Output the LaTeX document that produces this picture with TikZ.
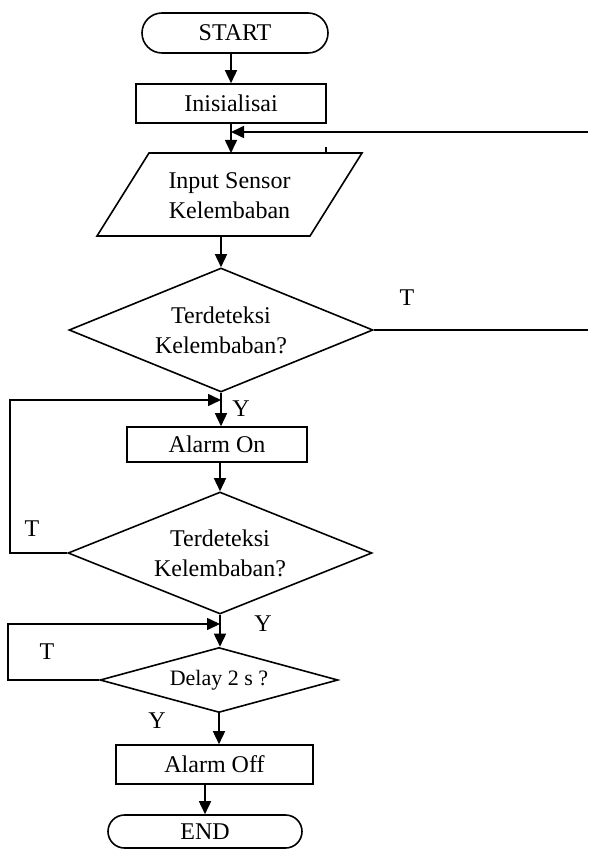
\documentclass[tikz,border=0pt]{standalone}
\usepackage{fontspec}
\setmainfont{Liberation Serif}
\usetikzlibrary{shapes.geometric,arrows.meta}
\tikzset{
	garis/.style={line width=0.8pt},
	panah/.style={garis, -{Triangle[length=6.5pt,width=6pt]}},
	terminal/.style={garis, draw, rounded corners=10pt, inner sep=0pt, minimum width=93pt, minimum height=20pt},
	proses/.style={garis, draw, inner sep=0pt, minimum width=95pt, minimum height=19.5pt},
	keputusan/.style={garis, draw, diamond, aspect=2.45, inner sep=0pt, minimum width=152pt, minimum height=62pt, align=center}
}
\begin{document}
\begin{tikzpicture}[x=0.5pt, y=-0.5pt, font=\fontsize{12}{15}\selectfont]
	\useasboundingbox (0,0) rectangle (588,849);
	\node[terminal] (mulai) at (235, 33) {START};
	\node[proses] (init) at (231, 103.5) {Inisialisai};
	\node[align=center, inner sep=0pt] (masukan) at (229.5, 196) {Input Sensor\\Kelembaban};
	\node[keputusan] (cek1) at (221, 330) {Terdeteksi\\Kelembaban?};
	\node[proses, minimum width=90pt, minimum height=17.5pt] (alarmon) at (217, 444.5) {Alarm On};
	\node[keputusan, minimum height=61pt] (cek2) at (220, 553) {Terdeteksi\\Kelembaban?};
	\node[keputusan, aspect=3.66, minimum width=119pt, minimum height=32.5pt, font=\fontsize{11}{13}\selectfont] (delay) at (219, 680) {Delay 2 s ?};
	\node[proses, minimum width=98.5pt] (alarmoff) at (214.5, 764.5) {Alarm Off};
	\node[terminal, minimum width=97pt, minimum height=16.5pt, rounded corners=8.25pt] (selesai) at (205, 831.5) {END};

	\draw[garis] (149, 153) -- (362, 153) -- (310, 236) -- (97, 236) -- cycle;
	\coordinate (masukanA) at (231, 153);
	\coordinate (masukanB) at (223, 236);

	\node (tA) at (407, 298) {T};
	\node (yA) at (241, 409) {Y};
	\node (tB) at (32, 529) {T};
	\node (yB) at (263, 624) {Y};
	\node (tC) at (47, 652) {T};
	\node (yC) at (157, 721) {Y};

	\coordinate (kanan) at (588, 132);
	\coordinate (kiriA) at (10, 400);
	\coordinate (kiriB) at (8, 624);

	\draw[panah] (mulai.south -| init.north) -- (init.north);
	\draw[panah] (init.south) -- (init.south |- masukanA);
	\draw[panah] (kanan) -- (kanan -| init.south);
	\draw[garis] (326, 147) -- (326, 153);
	\draw[panah] (masukanB -| cek1.north) -- (cek1.north);
	\draw[garis] (cek1.east) -- (cek1.east -| kanan);
	\draw[panah] (cek1.south) -- (cek1.south |- alarmon.north);
	\draw[panah] (cek2.west) -| (kiriA) -- (kiriA -| cek1.south);
	\draw[panah] (alarmon.south -| cek2.north) -- (cek2.north);
	\draw[panah] (cek2.south) -- (cek2.south |- delay.north);
	\draw[panah] (delay.west) -| (kiriB) -- (kiriB -| cek2.south);
	\draw[panah] (delay.south) -- (delay.south |- alarmoff.north);
	\draw[panah] (alarmoff.south -| selesai.north) -- (selesai.north);
\end{tikzpicture}
\end{document}
